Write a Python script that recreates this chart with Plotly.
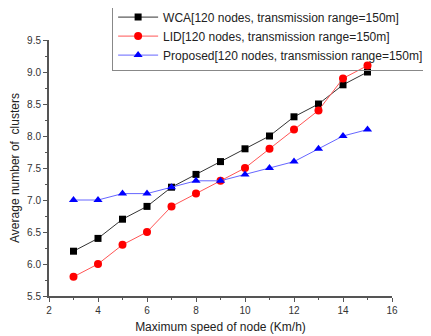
import plotly.graph_objects as go

speed = [3, 4, 5, 6, 7, 8, 9, 10, 11, 12, 13, 14, 15]
wca = [6.2, 6.4, 6.7, 6.9, 7.2, 7.4, 7.6, 7.8, 8.0, 8.3, 8.5, 8.8, 9.0]
lid = [5.8, 6.0, 6.3, 6.5, 6.9, 7.1, 7.3, 7.5, 7.8, 8.1, 8.4, 8.9, 9.1]
proposed = [7.0, 7.0, 7.1, 7.1, 7.2, 7.3, 7.3, 7.4, 7.5, 7.6, 7.8, 8.0, 8.1]
names = ["WCA[120 nodes, transmission range=150m]",
         "LID[120 nodes, transmission range=150m]",
         "Proposed[120 nodes, transmission range=150m]"]

FONT = "Liberation Sans, Arial"

fig = go.Figure()
fig.add_trace(go.Scatter(x=speed, y=wca, name=names[0], mode="lines+markers",
                         line=dict(color="#333333", width=1),
                         marker=dict(symbol="square", size=7, color="black")))
fig.add_trace(go.Scatter(x=speed, y=lid, name=names[1], mode="lines+markers",
                         line=dict(color="#ff5555", width=1),
                         marker=dict(symbol="circle", size=8, color="red")))
fig.add_trace(go.Scatter(x=speed, y=proposed, name=names[2], mode="lines+markers",
                         line=dict(color="#6666ff", width=1),
                         marker=dict(symbol="triangle-up", size=8, color="blue")))

axis_common = dict(showline=True, linecolor="#555555", linewidth=2, ticks="outside",
                   ticklen=4, tickcolor="#555555", tickwidth=1, showgrid=False,
                   zeroline=False, mirror=False,
                   tickfont=dict(family=FONT, size=10, color="#333333"),
                   minor=dict(ticks="outside", ticklen=2, tickcolor="#555555", showgrid=False))

fig.update_xaxes(range=[2, 16], dtick=2, minor_dtick=1,
                 title=dict(text="Maximum speed of node (Km/h)", standoff=8,
                            font=dict(family=FONT, size=12, color="#222222")),
                 **axis_common)
fig.update_yaxes(range=[5.5, 9.5], dtick=0.5, minor_dtick=0.25, tickformat=".1f",
                 title=dict(text="Average number of  clusters", standoff=5,
                            font=dict(family=FONT, size=12, color="#222222")),
                 **axis_common)

# the page body has an 8px margin, so the figure is offset by 8px
fig.update_layout(
    width=423, height=328,
    margin=dict(l=41, r=39, t=32, b=40, autoexpand=False),
    plot_bgcolor="white", paper_bgcolor="white",
    showlegend=True,
    legend=dict(x=0.184, y=1.15, xanchor="left", yanchor="top",
                bordercolor="#888888", borderwidth=1, bgcolor="rgba(255,255,255,0)",
                font=dict(family=FONT, size=12, color="#222222"),
                tracegroupgap=0, itemwidth=40),
)

fig.write_html("out.html")
